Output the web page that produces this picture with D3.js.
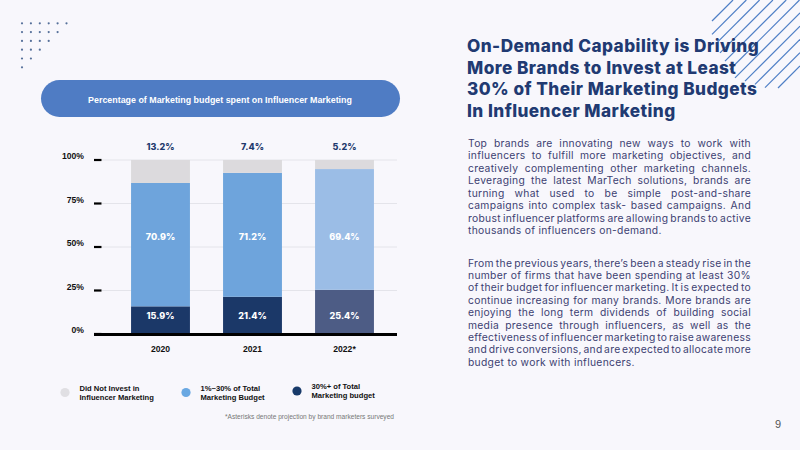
<!DOCTYPE html>
<html>
<head>
<meta charset="utf-8">
<script src="https://cdn.jsdelivr.net/npm/d3@7"></script>
<style>
  body { margin: 0; background: #f8f7fc; }
  svg { display: block; }
</style>
</head>
<body>
<div id="chart-area"></div>
<script>
// chart data
var years = ["2020", "2021", "2022*"];
var noInvest = [13.2, 7.4, 5.2];
var lowBudget = [70.9, 71.2, 69.4];
var highBudget = [15.9, 21.4, 25.4];
var projected = [false, false, true];
var yTicks = [0, 25, 50, 75, 100];

var chartTitle = "Percentage of Marketing budget spent on Influencer Marketing";
var legendLabels = [
    ["Did Not Invest in", "Influencer Marketing"],
    ["1%~30% of Total", "Marketing Budget"],
    ["30%+ of Total", "Marketing budget"]
];
var footnote = "*Asterisks denote projection by brand marketers surveyed";

var titleLines = [
    "On-Demand Capability is Driving",
    "More Brands to Invest at Least",
    "30% of Their Marketing Budgets",
    "In Influencer Marketing"
];
var para1 = [
    "Top brands are innovating new ways to work with",
    "influencers to fulfill more marketing objectives, and",
    "creatively complementing other marketing channels.",
    "Leveraging the latest MarTech solutions, brands are",
    "turning what used to be simple post-and-share",
    "campaigns into complex task- based campaigns. And",
    "robust influencer platforms are allowing brands to active",
    "thousands of influencers on-demand."
];
var para2 = [
    "From the previous years, there\u2019s been a steady rise in the",
    "number of firms that have been spending at least 30%",
    "of their budget for influencer marketing. It is expected to",
    "continue increasing for many brands. More brands are",
    "enjoying the long term dividends of building social",
    "media presence through influencers, as well as the",
    "effectiveness of influencer marketing to raise awareness",
    "and drive conversions, and are expected to allocate more",
    "budget to work with influencers."
];

var svg = d3.select("#chart-area").append("svg")
    .attr("width", 800)
    .attr("height", 450);

svg.append("rect").attr("width", 800).attr("height", 450).attr("fill", "#f8f7fc");

// dotted triangle, top left
var dots = [];
for (var r = 0; r < 6; r++) {
    for (var c = 0; c < 6 - r; c++) dots.push([22 + c * 8.9, 23.3 + r * 8.8]);
}
svg.append("g").selectAll("circle").data(dots).enter().append("circle")
    .attr("cx", d => d[0]).attr("cy", d => d[1]).attr("r", 1.1)
    .attr("fill", "#56709a");

// diagonal stripes, top right
var stripeStarts = [712, 712, 716, 720, 725, 730, 735, 745, 755, 765, 778];
svg.append("g").selectAll("line").data(stripeStarts).enter().append("line")
    .attr("x1", d => d)
    .attr("y1", (d, i) => 733 + 13.3 * i - d)
    .attr("x2", (d, i) => Math.min(800, 733 + 13.3 * i))
    .attr("y2", (d, i) => Math.max(0, 733 + 13.3 * i - 800))
    .attr("stroke", "#4f7fc6")
    .attr("stroke-width", 1.2);

// chart title pill
svg.append("rect")
    .attr("x", 41).attr("y", 80).attr("width", 359).attr("height", 37)
    .attr("rx", 18.5).attr("fill", "#4f7cc4");
svg.append("text")
    .attr("x", 220).attr("y", 102.5)
    .attr("text-anchor", "middle")
    .attr("font-family", "Liberation Sans, Arial, sans-serif")
    .attr("font-weight", "bold")
    .attr("font-size", 8.9)
    .attr("fill", "#fff")
    .text(chartTitle);

// scales
var x = d3.scaleBand().domain(years)
    .range([114.5, 390.5])
    .paddingInner(0.36)
    .paddingOuter(0.18);
var y = d3.scaleLinear().domain([0, 100]).range([334, 160]);

var rows = years.map((yr, i) => ({
    year: yr, high: highBudget[i], low: lowBudget[i], none: noInvest[i], proj: projected[i]
}));
var series = d3.stack().keys(["high", "low", "none"])(rows);

var colors = {
    high: ["#1b3868", "#4d5c85"],
    low: ["#6ea4dc", "#9bbde6"],
    none: ["#dcdadd", "#dcdadd"]
};

var chart = svg.append("g");

// gridlines
chart.append("g").selectAll("line").data(yTicks.filter(t => t > 0)).enter().append("line")
    .attr("x1", 102).attr("x2", 397)
    .attr("y1", d => y(d)).attr("y2", d => y(d))
    .attr("stroke", "#e4e4ea").attr("stroke-width", 1);

// y tick dashes and labels
chart.append("g").selectAll("line").data(yTicks).enter().append("line")
    .attr("x1", 94).attr("x2", 101.5)
    .attr("y1", d => y(d)).attr("y2", d => y(d))
    .attr("stroke", "#000").attr("stroke-width", 2.2);
chart.append("g").selectAll("text").data(yTicks).enter().append("text")
    .attr("x", 84).attr("y", d => y(d) - 1)
    .attr("text-anchor", "end")
    .attr("font-family", "Liberation Sans, Arial, sans-serif")
    .attr("font-weight", "bold").attr("font-size", 8.6)
    .attr("fill", "#111")
    .text(d => d + "%");

// stacked bars
chart.append("g").selectAll("g").data(series).enter().append("g")
    .each(function (s) {
        d3.select(this).selectAll("rect").data(s).enter().append("rect")
            .attr("x", d => x(d.data.year))
            .attr("width", x.bandwidth())
            .attr("y", d => y(d[1]))
            .attr("height", d => y(d[0]) - y(d[1]))
            .attr("fill", d => colors[s.key][d.data.proj ? 1 : 0]);
    });

// baseline
chart.append("line")
    .attr("x1", 94).attr("x2", 397)
    .attr("y1", y(0) + 0.5).attr("y2", y(0) + 0.5)
    .attr("stroke", "#000").attr("stroke-width", 3);

var valFont = "Inter, Liberation Sans, Arial, sans-serif";

// top labels (did not invest)
chart.append("g").selectAll("text").data(rows).enter().append("text")
    .attr("x", d => x(d.year) + x.bandwidth() / 2)
    .attr("y", y(100) - 10)
    .attr("text-anchor", "middle")
    .attr("font-family", valFont).attr("font-weight", 800).attr("font-size", 9)
    .attr("fill", "#1f3a6e")
    .text(d => d.none.toFixed(1) + "%");

// middle labels
chart.append("g").selectAll("text").data(rows).enter().append("text")
    .attr("x", d => x(d.year) + x.bandwidth() / 2)
    .attr("y", y(56)).attr("dy", "0.35em")
    .attr("text-anchor", "middle")
    .attr("font-family", valFont).attr("font-weight", 800).attr("font-size", 9)
    .attr("fill", "#fff")
    .text(d => d.low.toFixed(1) + "%");

// bottom labels
chart.append("g").selectAll("text").data(rows).enter().append("text")
    .attr("x", d => x(d.year) + x.bandwidth() / 2)
    .attr("y", y(10.5)).attr("dy", "0.35em")
    .attr("text-anchor", "middle")
    .attr("font-family", valFont).attr("font-weight", 800).attr("font-size", 9)
    .attr("fill", "#fff")
    .text(d => d.high.toFixed(1) + "%");

// x labels
chart.append("g").selectAll("text").data(years).enter().append("text")
    .attr("x", d => x(d) + x.bandwidth() / 2)
    .attr("y", y(0) + 18)
    .attr("text-anchor", "middle")
    .attr("font-family", "Liberation Sans, Arial, sans-serif")
    .attr("font-weight", "bold").attr("font-size", 8.6)
    .attr("fill", "#111")
    .text(d => d);

// legend
var legendX = [65, 186, 297];
var legendColors = ["#e0dfe3", "#6aa8e2", "#183a6a"];
var legend = svg.append("g").selectAll("g").data(legendLabels).enter().append("g")
    .attr("transform", (d, i) => "translate(" + legendX[i] + "," + (i == 2 ? 391 : 392.5) + ")");
legend.append("circle").attr("r", 4.6).attr("fill", (d, i) => legendColors[i]);
legend.append("text")
    .attr("x", 14.5).attr("y", -1.8)
    .attr("font-family", "Liberation Sans, Arial, sans-serif")
    .attr("font-weight", "bold").attr("font-size", 7.6)
    .attr("fill", "#111")
    .selectAll("tspan").data(d => d).enter().append("tspan")
    .attr("x", 14.5).attr("dy", (d, i) => i ? 9 : 0)
    .text(d => d);

svg.append("text")
    .attr("x", 394).attr("y", 418.5)
    .attr("text-anchor", "end")
    .attr("font-family", "Liberation Sans, Arial, sans-serif")
    .attr("font-size", 6.6)
    .attr("fill", "#777")
    .text(footnote);

// right side heading
svg.append("g").selectAll("text").data(titleLines).enter().append("text")
    .attr("x", 467)
    .attr("y", (d, i) => 51.7 + i * 21.8)
    .attr("font-family", "Inter, Liberation Sans, sans-serif")
    .attr("font-weight", 800).attr("font-size", 17.2)
    .attr("letter-spacing", 0.45)
    .attr("fill", "#213a72")
    .text(d => d);

// justified paragraphs
function paragraph(lines, y0, lh) {
    var g = svg.append("g")
        .attr("font-family", "Inter, Liberation Sans, sans-serif")
        .attr("font-size", 10.3)
        .attr("letter-spacing", 0.3)
        .attr("fill", "#3d3f72");
    lines.forEach((ln, i) => {
        var t = g.append("text").attr("x", 468).attr("y", y0 + i * lh).text(ln);
        if (i < lines.length - 1) {
            var w = t.node().getComputedTextLength();
            var gaps = ln.split(" ").length - 1;
            t.style("word-spacing", ((283 - w) / gaps) + "px");
        }
    });
}
paragraph(para1, 146.5, 12.5);
paragraph(para2, 266.5, 12.4);

svg.append("text")
    .attr("x", 778).attr("y", 428)
    .attr("text-anchor", "middle")
    .attr("font-family", "Liberation Sans, Arial, sans-serif")
    .attr("font-size", 11)
    .attr("fill", "#555")
    .text("9");
</script>
</body>
</html>
